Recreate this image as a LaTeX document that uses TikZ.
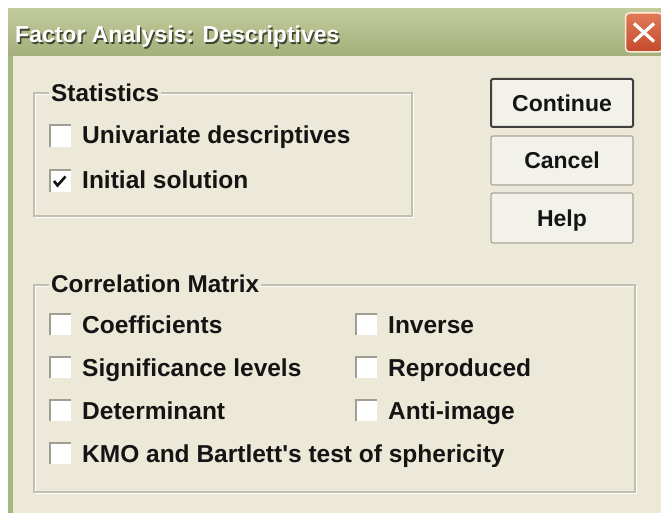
\documentclass[tikz,border=0pt]{standalone}
\usepackage{fontspec}
\setmainfont{Liberation Sans}
\definecolor{body}{HTML}{ECE9D8}
\definecolor{bartop}{HTML}{C2CB9B}
\definecolor{barbot}{HTML}{A4AF7B}
\definecolor{edge}{HTML}{A3B880}
\definecolor{closetop}{HTML}{E27A58}
\definecolor{closebot}{HTML}{C4492C}
\definecolor{etch}{HTML}{C2BFAF}
\definecolor{btnfill}{HTML}{F2F1EA}
\definecolor{btnedge}{HTML}{A8A69A}
\definecolor{ckgray}{HTML}{A09E92}
\definecolor{txt}{HTML}{141414}
\definecolor{tshadow}{HTML}{3E4530}
\tikzset{
  lbl/.style={anchor=base west, inner sep=0pt, text=txt,
    font=\fontsize{24.5}{24.5}\selectfont\bfseries},
  grplbl/.style={lbl, font=\fontsize{24.3}{24.3}\selectfont\bfseries, fill=body, inner xsep=2pt, inner ysep=2pt},
  chk/.style={rectangle, fill=white, minimum size=22pt, inner sep=0pt,
    path picture={\draw[line width=3pt, ckgray]
      (path picture bounding box.south west) -- (path picture bounding box.north west)
      -- (path picture bounding box.north east);}},
  btn/.style={rectangle, rounded corners=2pt, minimum width=142pt, fill=btnfill,
    draw=btnedge, line width=1.2pt, text=txt, text height=17pt, text depth=0pt,
    font=\fontsize{23}{23}\selectfont\bfseries},
  ttl/.style={anchor=base west, inner sep=0pt,
    font=\fontsize{23}{23}\selectfont\bfseries}
}

\begin{document}

\begin{tikzpicture}[x=1pt,y=-1pt]
\useasboundingbox (0,0) rectangle (661,513);
\clip (0,0) rectangle (661,513);
\fill[white] (0,0) rectangle (661,513);
% dialog body
\fill[body] (8,56) rectangle (661,513);
\fill[edge] (8,56) rectangle (13,513);
% title bar
\shade[top color=bartop, bottom color=barbot] (8,9) rectangle (661,56);
\node[ttl, text=tshadow] (titleshadow) at (16.5,44.5) {Factor Analysis: Descriptives};
\node[ttl, text=white] (title) at (15,43) {Factor Analysis: Descriptives};
% close button
\node[rectangle, rounded corners=4pt, draw=white!85!orange, line width=1.5pt,
  top color=closetop, bottom color=closebot, minimum width=37pt, minimum height=39pt]
  (close) at (644,32.5) {};
\draw[white, line width=3.2pt] (close.center) ++(-10,-9) -- ++(20,18);
\draw[white, line width=3.2pt] (close.center) ++(10,-9) -- ++(-20,18);
% Statistics group
\draw[white, line width=1.3pt] (35.5,94.5) rectangle (413.5,217.5);
\draw[etch, line width=1.3pt] (34,93) rectangle (412,216);
\node[grplbl] (statlbl) at (49,102) {Statistics};
\node[chk] (cbuni) at (60,136) {};
\node[lbl] (tuni) at (82,144) {Univariate descriptives};
\node[chk] (cbinit) at (60,181) {};
\draw[line width=2.6pt, txt] (cbinit.center) ++(-6,0) -- ++(3.5,4.5) -- ++(8,-9);
\node[lbl] (tinit) at (82,189) {Initial solution};
% buttons
\node[btn, draw=black!75, line width=2pt, minimum height=48pt] (continue) at (562,103) {Continue};
\node[btn, minimum height=49pt] (cancel) at (562,160.5) {Cancel};
\node[btn, minimum height=50pt] (help) at (562,218) {Help};
% Correlation group
\draw[white, line width=1.3pt] (35.5,286.5) rectangle (636.5,493.5);
\draw[etch, line width=1.3pt] (34,285) rectangle (635,492);
\node[grplbl] (corrlbl) at (49,292) {Correlation Matrix};
\node[chk] (cbcoef) at (60,324) {};
\node[lbl] (tcoef) at (82,333) {Coefficients};
\node[chk] (cbsig) at (60,367) {};
\node[lbl] (tsig) at (82,376) {Significance levels};
\node[chk] (cbdet) at (60,410) {};
\node[lbl] (tdet) at (82,419) {Determinant};
\node[chk] (cbkmo) at (60,453) {};
\node[lbl] (tkmo) at (82,462) {KMO and Bartlett\textquotesingle s test of sphericity};
\node[chk] (cbinv) at (366,324) {};
\node[lbl] (tinv) at (388,333) {Inverse};
\node[chk] (cbrep) at (366,367) {};
\node[lbl] (trep) at (388,376) {Reproduced};
\node[chk] (cbanti) at (366,410) {};
\node[lbl] (tanti) at (388,419) {Anti-image};
\end{tikzpicture}

\end{document}
